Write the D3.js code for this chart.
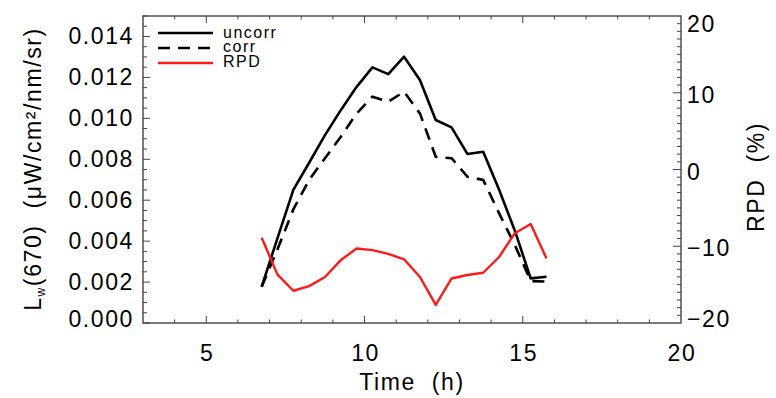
<!DOCTYPE html>
<html><head><meta charset="utf-8">
<script src="https://cdn.jsdelivr.net/npm/d3@7"></script>
<style>body{margin:0;background:#fff}svg{display:block}text{font-family:"Liberation Sans",Arial,sans-serif;fill:#000}</style>
</head><body><svg id="c" width="776" height="398"></svg>
<script>
const times = [6.75,7.25,7.75,8.25,8.75,9.25,9.75,10.25,10.75,11.25,11.75,12.25,12.75,13.25,13.75,14.25,14.75,15.25,15.75];
const uncorr = [0.00177,0.00415,0.0065,0.00783,0.00918,0.0104,0.01154,0.01249,0.01216,0.01301,0.01187,0.00992,0.00956,0.00826,0.00837,0.00652,0.00451,0.00218,0.00226];
const corr = [0.00177,0.0036,0.00555,0.00699,0.00805,0.0091,0.01024,0.01106,0.01081,0.0113,0.01024,0.00812,0.00805,0.00715,0.00699,0.00537,0.00381,0.00205,0.00202];
const rpd = [-8.9,-13.7,-15.8,-15.2,-14.0,-11.8,-10.3,-10.5,-11.0,-11.7,-14.0,-17.65,-14.2,-13.75,-13.45,-11.4,-8.3,-7.1,-11.6];
const xTicks = [5,10,15,20];
const yTicks = [0,0.002,0.004,0.006,0.008,0.010,0.012,0.014];
const rTicks = [-20,-10,0,10,20];
const legendNames = ["uncorr","corr","RPD"];

const svg = d3.select("#c");
const L=143,R=681,T=16,B=323;
const x = d3.scaleLinear().domain([3,20]).range([L,R]);
const y = d3.scaleLinear().domain([0,0.015]).range([B,T]);
const yr = d3.scaleLinear().domain([-20,20]).range([B,T]);
const axCol="#444";

const g = svg.append("g");
g.append("rect").attr("x",L).attr("y",T).attr("width",R-L).attr("height",B-T)
 .attr("fill","none").attr("stroke",axCol).attr("stroke-width",1.4);

function tk(x1,y1,x2,y2){g.append("line").attr("x1",x1).attr("y1",y1).attr("x2",x2).attr("y2",y2).attr("stroke",axCol).attr("stroke-width",1);}
d3.range(4,20).forEach(v=>{
  const major = v%5===0; const len = major?7:3.5; const px=x(v);
  tk(px,B,px,B-len); tk(px,T,px,T+len);
});
d3.range(0,0.0151,0.0005).forEach(v=>{
  const major = Math.abs(Math.round(v/0.0005)%4)===0; const len=major?7:4; const py=y(v);
  tk(L,py,L+len,py);
});
d3.range(-19,20).forEach(v=>{
  const major=v%10===0; const len=major?8:4; const py=yr(v);
  tk(R,py,R-len,py);
});

const fs=23, ls=1.6;
g.selectAll(".xl").data(xTicks).enter().append("text").attr("x",d=>x(d)+1).attr("y",361)
 .attr("text-anchor","middle").attr("font-size",fs).attr("letter-spacing",ls).text(d=>d);
g.selectAll(".yl").data(yTicks).enter().append("text").attr("x",134)
 .attr("y",d=>y(d)+8+(d===0?-4:0)).attr("text-anchor","end").attr("font-size",fs).attr("letter-spacing",ls)
 .text(d=>d3.format(".3f")(d));
g.selectAll(".rl").data(rTicks).enter().append("text").attr("x",687)
 .attr("y",d=>yr(d)+10+(d===20?6:0)+(d===-20?-6:0)).attr("font-size",fs).attr("letter-spacing",ls)
 .text(d=>d<0?"\u2212"+Math.abs(d):d);
g.append("text").attr("x",412).attr("y",390).attr("text-anchor","middle").attr("font-size",fs).attr("letter-spacing",ls).attr("xml:space","preserve").text("Time  (h)");
const lt = g.append("text").attr("transform","translate(41,169) rotate(-90)").attr("text-anchor","middle")
 .attr("font-size",fs).attr("letter-spacing",ls).attr("xml:space","preserve");
lt.append("tspan").text("L");
lt.append("tspan").attr("font-size",12).attr("dy",4).text("w");
lt.append("tspan").attr("dy",-4).text("(670)  (\u03bcW/cm\u00b2/nm/sr)");
g.append("text").attr("transform","translate(764,177) rotate(-90)").attr("text-anchor","middle")
 .attr("font-size",fs).attr("letter-spacing",ls).attr("xml:space","preserve").text("RPD  (%)");

const line1 = d3.line().x((d,i)=>x(times[i])).y(d=>y(d));
const liner = d3.line().x((d,i)=>x(times[i])).y(d=>yr(d));
svg.append("path").attr("d",line1(uncorr)).attr("fill","none").attr("stroke","#000").attr("stroke-width",2.6).attr("stroke-linejoin","round");
svg.append("path").attr("d",line1(corr)).attr("fill","none").attr("stroke","#000").attr("stroke-width",2.6).attr("stroke-dasharray","12,8");
svg.append("path").attr("d",liner(rpd)).attr("fill","none").attr("stroke","#ff1a1a").attr("stroke-width",2.4).attr("stroke-linejoin","round");

const styles=[{c:"#000",d:null,w:2.6},{c:"#000",d:"12,8",w:2.6},{c:"#ff1a1a",d:null,w:2.4}];
const ly=[33,48,63], tb=[38,52,67];
legendNames.forEach((n,i)=>{
  svg.append("line").attr("x1",158).attr("x2",213).attr("y1",ly[i]).attr("y2",ly[i]).attr("stroke",styles[i].c)
   .attr("stroke-width",styles[i].w).attr("stroke-dasharray",styles[i].d);
  svg.append("text").attr("x",223).attr("y",tb[i]).attr("font-size",16).attr("letter-spacing",1.5).text(n);
});
</script></body></html>
